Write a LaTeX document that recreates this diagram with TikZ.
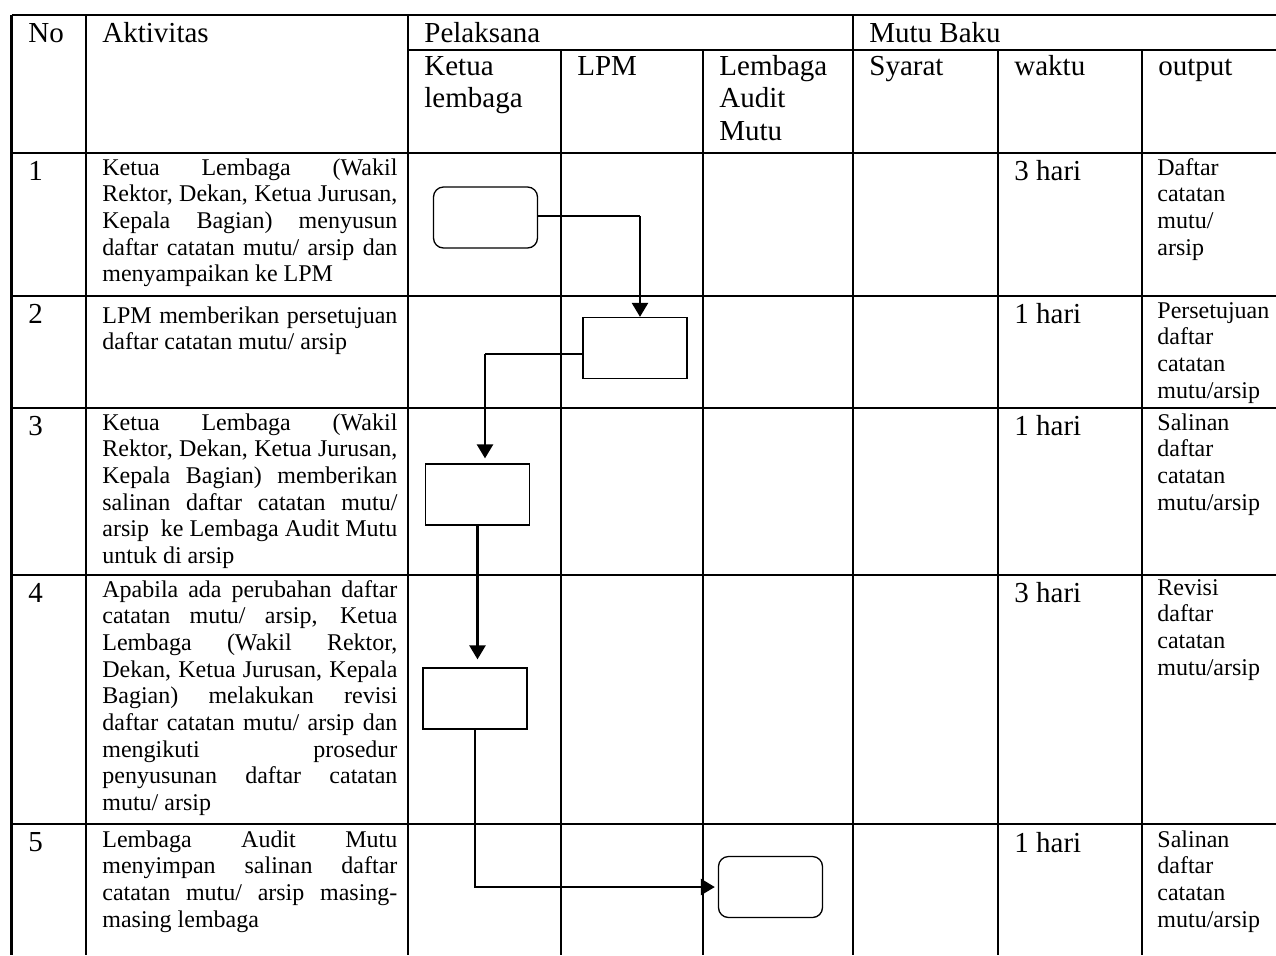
\documentclass[tikz,border=0pt]{standalone}
\usepackage{fontspec}
\setmainfont{Liberation Serif}
\usetikzlibrary{arrows.meta}

\newcommand{\hdfont}{\fontsize{14.5}{16.25}\selectfont}
\newcommand{\txfont}{\fontsize{12}{13.35}\selectfont}
\tolerance=10000
\hbadness=10000

\tikzset{
	grid/.style={line width=1.1pt},
	head/.style={font=\hdfont, inner sep=0pt, anchor=base west},
	headstack/.style={head, text width=62pt, align=left},
	body/.style={font=\txfont, inner sep=0pt, anchor=base west, text width=147.5pt, align=justify},
	outtext/.style={font=\txfont, inner sep=0pt, anchor=base west, text width=60pt, align=left},
	flowbox/.style={draw, line width=0.65pt, minimum width=52pt, minimum height=30.5pt, inner sep=0pt},
	startbox/.style={flowbox, rounded corners=5pt},
	link/.style={line width=0.65pt},
	flow/.style={line width=1.3pt, -{Triangle[length=7pt,width=8pt]}}
}

\begin{document}
\begin{tikzpicture}[x=0.5pt, y=-0.5pt]
	\useasboundingbox (0,0) rectangle (1276,955);

	% 1. Garis tabel (table grid)
	\draw[grid] (11.5,15) -- (1276,15);
	\draw[grid] (408,50) -- (1276,50);
	\draw[grid] (11.5,153) -- (1276,153);
	\draw[grid] (11.5,296) -- (1276,296);
	\draw[grid] (11.5,408) -- (1276,408);
	\draw[grid] (11.5,575) -- (1276,575);
	\draw[grid] (11.5,824) -- (1276,824);
	\draw[grid] (11.5,15) -- (11.5,955);
	\draw[grid] (86,15) -- (86,955);
	\draw[grid] (408,15) -- (408,955);
	\draw[grid] (853,15) -- (853,955);
	\draw[grid] (561,50) -- (561,955);
	\draw[grid] (703,50) -- (703,955);
	\draw[grid] (998,50) -- (998,955);
	\draw[grid] (1142,50) -- (1142,955);

	% 2. Kepala tabel (header)
	\node[head] (hno) at (28,42) {No};
	\node[head] (hakt) at (102,42) {Aktivitas};
	\node[head] (hpel) at (424,42) {Pelaksana};
	\node[head] (hmutu) at (869,42) {Mutu Baku};
	\node[headstack] (hketua) at (424,75) {Ketua\\lembaga};
	\node[head] (hlpm) at (577,75) {LPM};
	\node[headstack] (hlam) at (719,75) {Lembaga\\Audit\\Mutu};
	\node[head] (hsyarat) at (869,75) {Syarat};
	\node[head] (hwaktu) at (1014,75) {waktu};
	\node[head] (houtput) at (1158,75) {output};

	% 3. Nomor dan aktivitas
	\node[head] (no1) at (28,180) {1};
	\node[head] (no2) at (28,323) {2};
	\node[head] (no3) at (28,435) {3};
	\node[head] (no4) at (28,602) {4};
	\node[head] (no5) at (28,851) {5};

	\node[body] (act1) at (102,175) {Ketua Lembaga (Wakil\linebreak Rektor, Dekan, Ketua Jurusan,\linebreak Kepala Bagian) menyusun\linebreak daftar catatan mutu/ arsip dan\linebreak menyampaikan ke LPM};
	\node[body] (act2) at (102,323) {LPM memberikan persetujuan\linebreak daftar catatan mutu/ arsip};
	\node[body] (act3) at (102,430) {Ketua Lembaga (Wakil\linebreak Rektor, Dekan, Ketua Jurusan,\linebreak Kepala Bagian) memberikan\linebreak salinan daftar catatan mutu/\linebreak arsip\ \ ke Lembaga Audit Mutu\linebreak untuk di arsip};
	\node[body] (act4) at (102,597) {Apabila ada perubahan daftar\linebreak catatan mutu/ arsip, Ketua\linebreak Lembaga (Wakil Rektor,\linebreak Dekan, Ketua Jurusan, Kepala\linebreak Bagian) melakukan revisi\linebreak daftar catatan mutu/ arsip dan\linebreak mengikuti prosedur\linebreak penyusunan daftar catatan\linebreak mutu/ arsip};
	\node[body] (act5) at (102,847) {Lembaga Audit Mutu\linebreak menyimpan salinan daftar\linebreak catatan mutu/ arsip masing-\linebreak masing lembaga};

	% 4. Waktu dan output
	\node[head] (time1) at (1014,180) {3 hari};
	\node[head] (time2) at (1014,323) {1 hari};
	\node[head] (time3) at (1014,435) {1 hari};
	\node[head] (time4) at (1014,602) {3 hari};
	\node[head] (time5) at (1014,852) {1 hari};

	\node[outtext] (out1) at (1157,175) {Daftar\\catatan\\mutu/\\arsip};
	\node[outtext] (out2) at (1157,318) {Persetujuan\\daftar\\catatan\\mutu/arsip};
	\node[outtext] (out3) at (1157,430) {Salinan\\daftar\\catatan\\mutu/arsip};
	\node[outtext] (out4) at (1157,595) {Revisi\\daftar\\catatan\\mutu/arsip};
	\node[outtext] (out5) at (1157,847) {Salinan\\daftar\\catatan\\mutu/arsip};

	% 5. Bagan alir (flow)
	\node[startbox] (start) at (485.5,217.5) {};
	\node[flowbox] (approve) at (635,348) {};
	\node[flowbox] (copy) at (477.5,494.5) {};
	\node[flowbox] (revise) at (475,698.5) {};
	\node[startbox] (store) at (770.5,887) {};

	\coordinate (bend1) at (640,216);
	\coordinate (bend2) at (485,354);
	\draw[link] (start.east |- bend1) -- (bend1);
	\draw[flow] (bend1) -- (bend1 |- approve.north);
	\draw[link] (approve.west |- bend2) -- (bend2);
	\draw[flow, shorten >=2.5pt] (bend2) -- (bend2 |- copy.north);
	\draw[flow, shorten >=4pt] (copy.south) -- (copy.south |- revise.north);
	\draw[flow, shorten >=1.5pt] (revise.south) |- (store.west);
\end{tikzpicture}
\end{document}
